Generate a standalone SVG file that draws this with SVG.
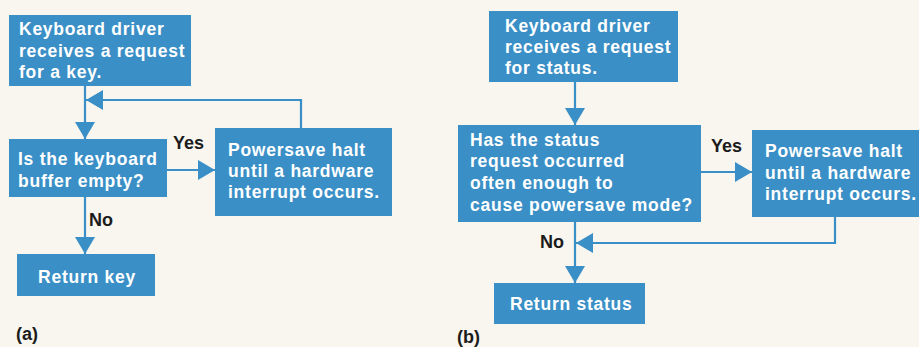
<svg xmlns="http://www.w3.org/2000/svg" width="919" height="347" viewBox="0 0 919 347">
<defs>
<style>
.box{fill:#3a8fc6}
.t{font-family:"Liberation Sans",Arial,sans-serif;font-weight:bold;font-size:17.5px;fill:#ffffff;letter-spacing:0.75px}
.lbl{font-family:"Liberation Sans",Arial,sans-serif;font-weight:bold;font-size:18px;fill:#1c1c1c}
.c{fill:none;stroke:#3a8fc6;stroke-width:2.2}
</style>
<marker id="ah" viewBox="0 0 17 20" refX="17" refY="10" markerWidth="17" markerHeight="20" orient="auto" markerUnits="userSpaceOnUse">
<path d="M0,0 L17,10 L0,20 z" fill="#3a8fc6"/>
</marker>
</defs>
<rect width="919" height="347" fill="#f8f6ef"/>
<g id="connectors">
<path class="c" d="M85,86 V139" marker-end="url(#ah)"/>
<path class="c" d="M301,128 V100 H86" marker-end="url(#ah)"/>
<path class="c" d="M167,170 H215" marker-end="url(#ah)"/>
<path class="c" d="M85,197 V254" marker-end="url(#ah)"/>
<path class="c" d="M575,82 V125" marker-end="url(#ah)"/>
<path class="c" d="M701,172 H752" marker-end="url(#ah)"/>
<path class="c" d="M835,217 V243 H576" marker-end="url(#ah)"/>
<path class="c" d="M575,222 V283" marker-end="url(#ah)"/>
</g>
<g id="a-start">
<rect class="box" x="9" y="15" width="182" height="71"/>
<text class="t" x="19" y="35">Keyboard driver</text>
<text class="t" x="19" y="57">receives a request</text>
<text class="t" x="19" y="78">for a key.</text>
</g>
<g id="a-decision">
<rect class="box" x="9" y="139" width="158" height="58"/>
<text class="t" x="18" y="165">Is the keyboard</text>
<text class="t" x="18" y="187">buffer empty?</text>
</g>
<g id="a-halt">
<rect class="box" x="215" y="128" width="177" height="88"/>
<text class="t" x="228" y="156">Powersave halt</text>
<text class="t" x="228" y="177">until a hardware</text>
<text class="t" x="228" y="198">interrupt occurs.</text>
</g>
<g id="a-return">
<rect class="box" x="17" y="254" width="138" height="42"/>
<text class="t" x="87" y="283" text-anchor="middle">Return key</text>
</g>
<g id="a-labels">
<text class="lbl" x="173" y="149">Yes</text>
<text class="lbl" x="89" y="226">No</text>
<text class="lbl" x="16" y="340">(a)</text>
</g>
<g id="b-start">
<rect class="box" x="489" y="11" width="189" height="71"/>
<text class="t" x="505" y="32">Keyboard driver</text>
<text class="t" x="505" y="53">receives a request</text>
<text class="t" x="505" y="74">for status.</text>
</g>
<g id="b-decision">
<rect class="box" x="458" y="125" width="243" height="97"/>
<text class="t" x="470" y="146">Has the status</text>
<text class="t" x="470" y="167">request occurred</text>
<text class="t" x="470" y="189">often enough to</text>
<text class="t" x="470" y="211">cause powersave mode?</text>
</g>
<g id="b-halt">
<rect class="box" x="752" y="130" width="167" height="87"/>
<text class="t" x="765" y="157">Powersave halt</text>
<text class="t" x="765" y="179">until a hardware</text>
<text class="t" x="765" y="200">interrupt occurs.</text>
</g>
<g id="b-return">
<rect class="box" x="494" y="283" width="151" height="41"/>
<text class="t" x="510" y="310">Return status</text>
</g>
<g id="b-labels">
<text class="lbl" x="711" y="152">Yes</text>
<text class="lbl" x="540" y="248">No</text>
<text class="lbl" x="457" y="343">(b)</text>
</g>
</svg>
